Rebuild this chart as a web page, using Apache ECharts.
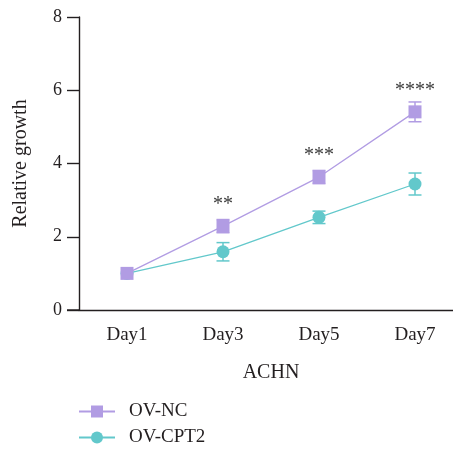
<!DOCTYPE html>
<html>
<head>
<meta charset="utf-8">
<script src="https://cdn.jsdelivr.net/npm/echarts@6/dist/echarts.min.js"></script>
<style>html,body{margin:0;padding:0;background:#fff;}#c{width:453px;height:451px;}</style>
</head>
<body>
<div id="c"></div>
<script>
var categories = ['Day1', 'Day3', 'Day5', 'Day7'];
var ncMean = [1.0, 2.29, 3.63, 5.41];
var ncErr = [0.0, 0.18, 0.18, 0.27];
var cptMean = [1.0, 1.59, 2.53, 3.44];
var cptErr = [0.0, 0.25, 0.17, 0.30];
var sigLabels = ['', '**', '***', '****'];
var yTicks = [0, 2, 4, 6, 8];

var FONT = 'Liberation Serif';
var TXT = '#231f20';
var PURPLE = '#b19ce3';
var TEAL = '#62c8cb';

function errData(mean, err) {
  return mean.map(function (m, i) { return [i, m - err[i], m + err[i]]; });
}
function errSeries(id, mean, err, color) {
  return {
    type: 'custom',
    name: id,
    z: 1,
    silent: true,
    itemStyle: { color: color },
    data: errData(mean, err),
    renderItem: function (params, api) {
      var x = api.value(0);
      var lo = api.coord([x, api.value(1)]);
      var hi = api.coord([x, api.value(2)]);
      if (Math.abs(hi[1] - lo[1]) < 1) return { type: 'group', children: [] };
      var hw = 6.5;
      var st = { stroke: color, lineWidth: 1.5 };
      return {
        type: 'group',
        children: [
          { type: 'line', shape: { x1: lo[0], y1: lo[1], x2: hi[0], y2: hi[1] }, style: st },
          { type: 'line', shape: { x1: lo[0] - hw, y1: lo[1], x2: lo[0] + hw, y2: lo[1] }, style: st },
          { type: 'line', shape: { x1: hi[0] - hw, y1: hi[1], x2: hi[0] + hw, y2: hi[1] }, style: st }
        ]
      };
    }
  };
}

var ncData = ncMean.map(function (v, i) {
  return {
    value: v,
    label: {
      show: sigLabels[i] !== '',
      formatter: sigLabels[i],
      position: 'top',
      distance: 5,
      fontFamily: FONT,
      fontSize: 20,
      color: '#3a3a3a'
    }
  };
});

var chart = echarts.init(document.getElementById('c'), null, { renderer: 'canvas' });
chart.setOption({
  animation: false,
  backgroundColor: '#fff',
  textStyle: { fontFamily: FONT, color: TXT },
  grid: { left: 79, width: 384, top: 17, height: 293, containLabel: false, outerBoundsMode: 'none' },
  xAxis: {
    type: 'category',
    data: categories,
    boundaryGap: true,
    name: 'ACHN',
    nameLocation: 'middle',
    nameGap: 53,
    nameTextStyle: { fontFamily: FONT, fontSize: 20, color: TXT },
    axisLine: { lineStyle: { color: '#231f20', width: 1.4 } },
    axisTick: { alignWithLabel: true, length: 11, lineStyle: { color: '#231f20', width: 1.4 } },
    axisLabel: { fontFamily: FONT, fontSize: 19, color: TXT, margin: 16 },
    splitLine: { show: false }
  },
  yAxis: {
    type: 'value',
    min: yTicks[0],
    max: yTicks[yTicks.length - 1],
    interval: yTicks[1] - yTicks[0],
    name: 'Relative growth',
    nameLocation: 'middle',
    nameGap: 48,
    nameTextStyle: { fontFamily: FONT, fontSize: 20, color: TXT },
    axisLine: { show: true, lineStyle: { color: '#231f20', width: 1.4 } },
    axisTick: { show: true, length: 12, lineStyle: { color: '#231f20', width: 1.4 } },
    axisLabel: { fontFamily: FONT, fontSize: 18, color: TXT, margin: 17 },
    splitLine: { show: false }
  },
  legend: {
    orient: 'vertical',
    left: 78,
    top: 401,
    padding: 0,
    itemWidth: 36,
    itemHeight: 15,
    itemGap: 5,
    textStyle: { fontFamily: FONT, fontSize: 19, lineHeight: 21, color: TXT, padding: [0, 0, 0, 9] },
    data: ['OV-NC', 'OV-CPT2']
  },
  graphic: [{
    type: 'line',
    shape: { x1: 67, y1: 310, x2: 80, y2: 310 },
    style: { stroke: '#231f20', lineWidth: 1.4 }
  }],
  series: [
    errSeries('errNC', ncMean, ncErr, PURPLE),
    errSeries('errCPT', cptMean, cptErr, TEAL),
    {
      name: 'OV-CPT2',
      type: 'line',
      z: 2,
      data: cptMean,
      symbol: 'circle',
      symbolSize: 13,
      itemStyle: { color: TEAL },
      lineStyle: { color: TEAL, width: 1.3 }
    },
    {
      name: 'OV-NC',
      type: 'line',
      z: 3,
      data: ncData,
      symbol: 'rect',
      symbolSize: 13,
      itemStyle: { color: PURPLE },
      lineStyle: { color: PURPLE, width: 1.3 }
    }
  ]
});
</script>
</body>
</html>
